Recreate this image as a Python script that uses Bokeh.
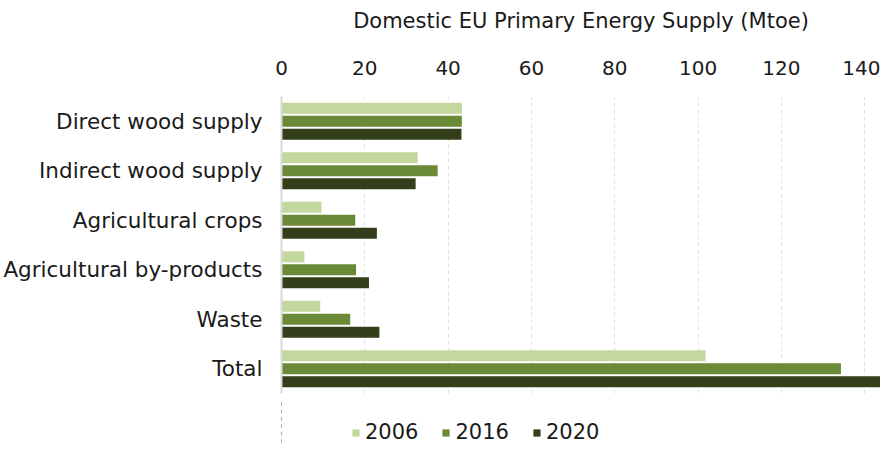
from bokeh.plotting import figure
from bokeh.models import FactorRange, Range1d, ColumnDataSource, Legend, LegendItem, FixedTicker
from bokeh.layouts import column
from bokeh.transform import dodge
from bokeh.embed import file_html
from bokeh.resources import INLINE

categories = ["Direct wood supply", "Indirect wood supply", "Agricultural crops",
              "Agricultural by-products", "Waste", "Total"]
years = ["2006", "2016", "2020"]
v2006 = [43.3, 32.7, 9.6, 5.5, 9.3, 101.8]
v2016 = [43.3, 37.5, 17.7, 17.9, 16.5, 134.3]
v2020 = [43.2, 32.2, 22.9, 21.0, 23.5, 144.3]
colors = ["#c4d79f", "#6b8a38", "#333f1b"]
xticks = [0, 20, 40, 60, 80, 100, 120, 140]

FONT = "DejaVu Sans"

src = ColumnDataSource(dict(cat=categories, v2006=v2006, v2016=v2016, v2020=v2020))

p = figure(width=880, height=400, output_backend="svg", toolbar_location=None,
           y_range=FactorRange(factors=list(reversed(categories))),
           x_range=Range1d(0, 143.8), x_axis_location="above",
           min_border_left=280, min_border_right=0, min_border_top=96, min_border_bottom=7)
p.outline_line_color = None
p.y_range.range_padding = 0

offsets = [0.263, 0.0, -0.263]
for yr, off, col in zip(years, offsets, colors):
    p.hbar(y=dodge("cat", off, range=p.y_range), right="v" + yr, left=0, height=0.222,
           source=src, fill_color=col, line_color=None)

p.xaxis.ticker = FixedTicker(ticks=xticks)
p.xaxis.axis_label = "Domestic EU Primary Energy Supply (Mtoe)"
p.xaxis.axis_label_text_font = FONT
p.xaxis.axis_label_text_font_size = "21px"
p.xaxis.axis_label_text_font_style = "normal"
p.xaxis.axis_label_text_color = "#1a1a1a"
p.xaxis.axis_label_standoff = 25
p.xaxis.major_label_text_font = FONT
p.xaxis.major_label_text_font_size = "20px"
p.xaxis.major_label_text_color = "#1a1a1a"
p.xaxis.major_label_standoff = 16
p.xaxis.axis_line_color = None
p.xaxis.major_tick_line_color = None
p.xaxis.minor_tick_line_color = None

p.yaxis.major_label_text_font = FONT
p.yaxis.major_label_text_font_size = "21.5px"
p.yaxis.major_label_text_color = "#1a1a1a"
p.yaxis.major_label_standoff = 13
p.yaxis.axis_line_color = "#d9d9d9"
p.yaxis.axis_line_width = 2
p.yaxis.major_tick_line_color = None
p.yaxis.minor_tick_line_color = None

p.xgrid.ticker = FixedTicker(ticks=xticks[1:])
p.xgrid.grid_line_color = "#e0e0e0"
p.xgrid.grid_line_dash = "4 3"
p.ygrid.grid_line_color = None

# legend strip below the chart (its bars lie outside its visible x range)
lg = figure(width=880, height=44, output_backend="svg", toolbar_location=None,
            x_range=Range1d(1000, 1001), y_range=FactorRange(factors=list(reversed(categories))),
            min_border_left=0, min_border_right=0, min_border_top=0, min_border_bottom=0)
lg.axis.visible = False
lg.xgrid.grid_line_color = None
lg.ygrid.grid_line_color = None
lg.outline_line_color = None
items = []
for yr, col in zip(years, colors):
    r = lg.hbar(y="cat", right="v" + yr, left=0, height=0.5, source=src,
                fill_color=col, line_color=None)
    items.append(LegendItem(label=yr, renderers=[r]))
legend = Legend(items=items, orientation="horizontal", location=(70, 0),
                label_text_font=FONT, label_text_font_size="21px", label_text_color="#1a1a1a",
                glyph_width=9, glyph_height=9, spacing=23, label_standoff=5,
                border_line_color=None, background_fill_alpha=0, padding=0, margin=0)
lg.add_layout(legend, "center")

layout = column(p, lg, spacing=0)
open("out.html", "w").write(file_html(layout, INLINE))
